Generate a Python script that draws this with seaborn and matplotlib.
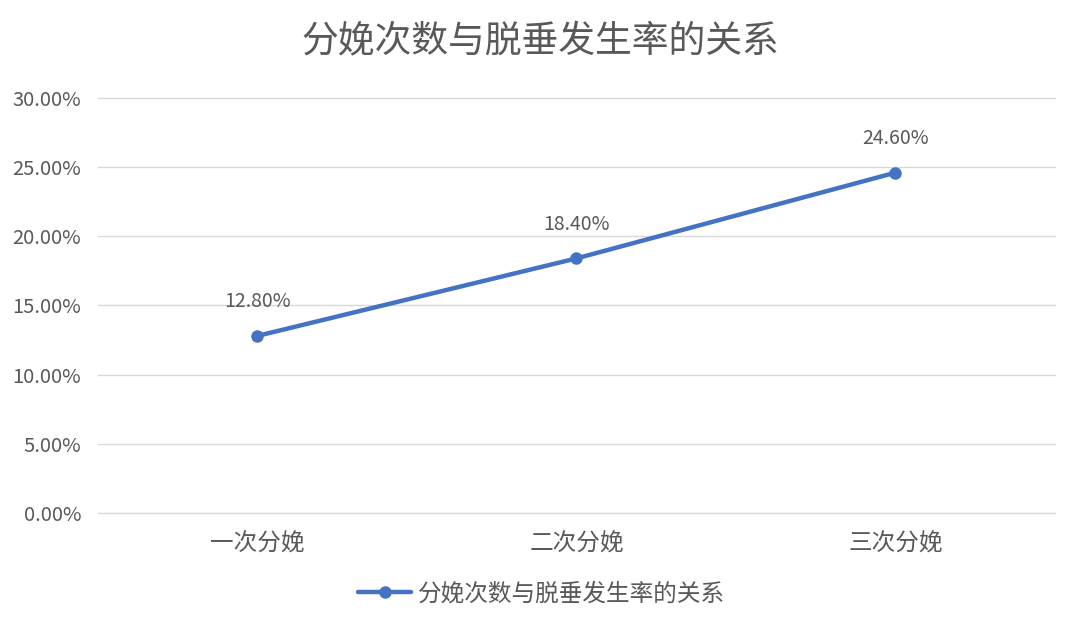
import pandas as pd
import matplotlib.pyplot as plt
import matplotlib.ticker as mtick
import seaborn as sns

categories = ["一次分娩", "二次分娩", "三次分娩"]
rates = [0.128, 0.184, 0.246]
series_name = "分娩次数与脱垂发生率的关系"
title = "分娩次数与脱垂发生率的关系"

df = pd.DataFrame({"分娩次数": categories, "发生率": rates, "系列": series_name})

sns.set_theme(style="whitegrid")
plt.rcParams['font.family'] = ['Noto Sans CJK SC', 'DejaVu Sans']

line_color = "#4472C4"
text_color = "#595959"

fig = plt.figure(figsize=(10.8, 6.24), dpi=100)
ax = fig.add_axes([0.0907, 0.178, 0.886, 0.665])

sns.lineplot(
    data=df, x="分娩次数", y="发生率", hue="系列",
    palette={series_name: line_color},
    marker="o", markersize=9, markeredgewidth=0,
    linewidth=3.2, ax=ax, sort=False,
)

for i, v in enumerate(rates):
    ax.annotate(f"{v * 100:.2f}%", (i, v), xytext=(0, 17), textcoords="offset points",
                ha="center", va="bottom", fontsize=14, color=text_color)

ax.set_xlim(-0.5, 2.5)
ax.set_ylim(0, 0.30)
ax.set_yticks([i * 0.05 for i in range(7)])
ax.yaxis.set_major_formatter(mtick.PercentFormatter(1.0, decimals=2))
ax.tick_params(axis="both", colors=text_color, length=0)
ax.tick_params(axis="x", labelsize=17, pad=14)
ax.tick_params(axis="y", labelsize=14.5, pad=12)
ax.grid(axis="x", visible=False)
ax.grid(axis="y", color="#D9D9D9", linewidth=1)
for gl in ax.get_ygridlines():
    gl.set_clip_on(False)
for s in ax.spines.values():
    s.set_visible(False)
ax.set_xlabel("")
ax.set_ylabel("")

fig.text(0.5, 1 - 42 / 624, title, ha="center", va="center", fontsize=26.5, color=text_color)

# legend centred on the figure, below the category labels
leg = ax.legend(loc="center", bbox_to_anchor=((542 - 98) / 957, (513 - 594) / 415), frameon=False,
                fontsize=17, handlelength=2.25, handletextpad=0.3, labelcolor=text_color)

plt.savefig("out.png", dpi=100)
